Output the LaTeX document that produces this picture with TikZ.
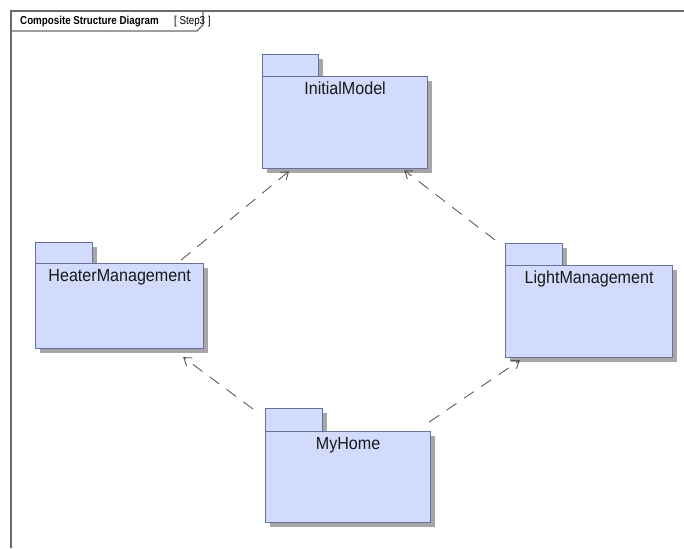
\documentclass[tikz,border=0pt]{standalone}
\usepackage{fontspec}
\setmainfont{Liberation Sans}
\usetikzlibrary{arrows.meta,shadows}
\definecolor{pkgfill}{HTML}{D3DBFC}
\definecolor{pkgline}{HTML}{65729F}
\definecolor{shadowgray}{HTML}{A6A6A6}
\definecolor{framegray}{HTML}{6A6A6A}
\definecolor{deplinegray}{HTML}{555555}
\newcommand{\pkglabel}[1]{\scalebox{0.92}[1]{#1}}
\begin{document}
\begin{tikzpicture}[x=1pt,y=-1pt,
  pkgpart/.style={draw=pkgline,fill=pkgfill,line width=1.2pt,inner sep=0pt,anchor=north west,
    drop shadow={shadow xshift=4.5pt,shadow yshift=-4.5pt,fill=shadowgray,opacity=1}},
  pkgname/.style={anchor=north,inner sep=0pt,text=black!90,font=\fontsize{17.5}{20}\selectfont},
  dep/.style={draw=deplinegray,line width=0.85pt,dash pattern=on 12pt off 9pt,
    -{Straight Barb[length=7pt,width=10pt,line width=0.9pt]}},
  frameline/.style={draw=framegray,line width=1.3pt}]
\useasboundingbox (0,0) rectangle (684,548);
% diagram frame and header tab
\draw[frameline] (10,11) -- (684,11);
\draw[frameline] (11,11) -- (11,548);
\draw[frameline] (11,31) -- (197,31) -- (203,25) -- (203,11);
\node[anchor=base west,inner sep=0pt,font=\bfseries\fontsize{11.5}{13}\selectfont] (title) at (20,25)
  {\scalebox{0.85}[1]{Composite Structure Diagram}};
\node[anchor=base west,inner sep=0pt,font=\fontsize{11.5}{13}\selectfont] (step) at (174,25)
  {\scalebox{0.85}[1]{[ Step3 ]}};
% packages: tab + body
\node[pkgpart,minimum width=56,minimum height=22] (imtab) at (262,54) {};
\node[pkgpart,minimum width=165,minimum height=92] (im) at (262,76) {};
\node[pkgname] (imname) at ([yshift=-6]im.north) {\pkglabel{InitialModel}};

\node[pkgpart,minimum width=57,minimum height=21] (hmtab) at (35,242) {};
\node[pkgpart,minimum width=168,minimum height=85] (hm) at (35,263) {};
\node[pkgname] (hmname) at ([yshift=-6]hm.north) {\pkglabel{HeaterManagement}};

\node[pkgpart,minimum width=57,minimum height=22] (lmtab) at (505,243) {};
\node[pkgpart,minimum width=167,minimum height=92] (lm) at (505,265) {};
\node[pkgname] (lmname) at ([yshift=-6]lm.north) {\pkglabel{LightManagement}};

\node[pkgpart,minimum width=57,minimum height=23] (mhtab) at (265,408) {};
\node[pkgpart,minimum width=165,minimum height=91] (mh) at (265,431) {};
\node[pkgname] (mhname) at ([yshift=-6]mh.north) {\pkglabel{MyHome}};

% dependencies
\coordinate (hmout) at ([xshift=-23,yshift=3]hm.north east);
\coordinate (imin1) at ([xshift=27,yshift=-2]im.south west);
\coordinate (lmout) at ([xshift=-10,yshift=25]lm.north west);
\coordinate (imin2) at ([xshift=-24,yshift=-1]im.south east);
\coordinate (mhout1) at ([xshift=-12,yshift=22]mh.north west);
\coordinate (hmin) at ([xshift=-21,yshift=-8]hm.south east);
\coordinate (mhout2) at ([xshift=-2,yshift=9]mh.north east);
\coordinate (lmin) at ([xshift=15,yshift=-2]lm.south west);
\draw[dep] (hmout) -- (imin1);
\draw[dep] (lmout) -- (imin2);
\draw[dep] (mhout1) -- (hmin);
\draw[dep] (mhout2) -- (lmin);
\end{tikzpicture}
\end{document}
